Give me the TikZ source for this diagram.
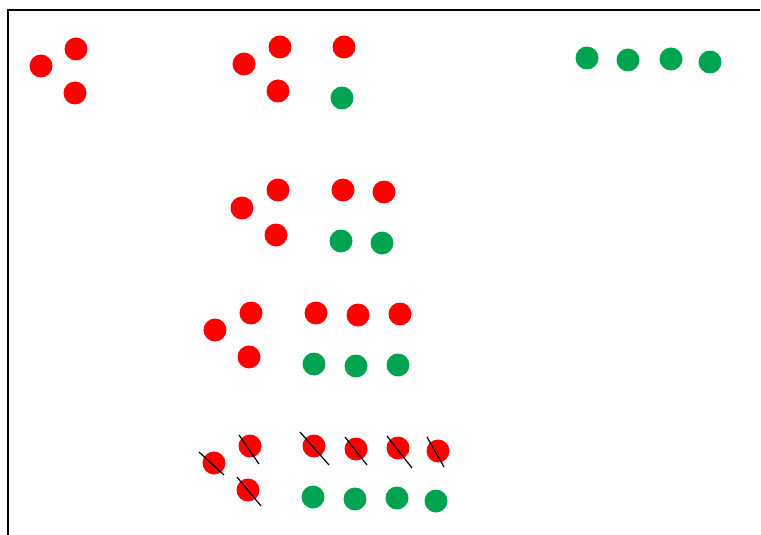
\documentclass[tikz,border=0pt]{standalone}
\usetikzlibrary{calc}
\definecolor{dotred}{RGB}{255,0,0}
\definecolor{dotgreen}{RGB}{0,164,80}
\tikzset{
  rdot/.style={circle,fill=dotred,draw=none,minimum size=23,inner sep=0pt},
  gdot/.style={circle,fill=dotgreen,draw=none,minimum size=23,inner sep=0pt},
  frameline/.style={line width=0.9,black},
  crossline/.style={line width=0.9,black}
}
\begin{document}
\begin{tikzpicture}[x=0.75pt,y=-0.75pt,minimum size=17.25pt]
\tikzset{rdot/.style={circle,fill=dotred,draw=none,minimum size=17.25pt,inner sep=0pt},
gdot/.style={circle,fill=dotgreen,draw=none,minimum size=17.25pt,inner sep=0pt}}
\useasboundingbox (0,0) rectangle (761,535);
\coordinate (fl) at (8,535);
\coordinate (ftl) at (8,10);
\coordinate (ftr) at (760,10);
\draw[frameline] (fl) -- (ftl) -- (ftr);
% group 1
\node[rdot] (a1) at (41,66) {};
\node[rdot] (a2) at (76,49) {};
\node[rdot] (a3) at (75,93) {};
% group 2
\node[rdot] (b1) at (244,64) {};
\node[rdot] (b2) at (280,47) {};
\node[rdot] (b3) at (278,91) {};
\node[rdot] (b4) at (344,47) {};
\node[gdot] (b5) at (342,98) {};
% top right greens
\node[gdot] (g1) at (587,58) {};
\node[gdot] (g2) at (628,60) {};
\node[gdot] (g3) at (671,59) {};
\node[gdot] (g4) at (710,62) {};
% row 3
\node[rdot] (c1) at (242,208) {};
\node[rdot] (c2) at (278,190) {};
\node[rdot] (c3) at (276,235) {};
\node[rdot] (c4) at (343,190) {};
\node[rdot] (c5) at (384,192) {};
\node[gdot] (c6) at (341,241) {};
\node[gdot] (c7) at (382,243) {};
% row 4
\node[rdot] (d1) at (215,330) {};
\node[rdot] (d2) at (251,313) {};
\node[rdot] (d3) at (249,357) {};
\node[rdot] (d4) at (316,313) {};
\node[rdot] (d5) at (358,315) {};
\node[rdot] (d6) at (400,314) {};
\node[gdot] (d7) at (314,364) {};
\node[gdot] (d8) at (356,366) {};
\node[gdot] (d9) at (398,365) {};
% row 5
\node[rdot] (e1) at (214,463) {};
\node[rdot] (e2) at (250,446) {};
\node[rdot] (e3) at (248,490) {};
\node[rdot] (e4) at (314,446) {};
\node[rdot] (e5) at (356,449) {};
\node[rdot] (e6) at (398,448) {};
\node[rdot] (e7) at (438,451) {};
\node[gdot] (e8) at (313,497) {};
\node[gdot] (e9) at (355,499) {};
\node[gdot] (e10) at (397,498) {};
\node[gdot] (e11) at (436,501) {};
% strike lines
\draw[crossline] ($(e1)+(-15,-11)$) -- ($(e1)+(10,12)$);
\draw[crossline] ($(e2)+(-11,-11)$) -- ($(e2)+(9,18)$);
\draw[crossline] ($(e3)+(-11,-13)$) -- ($(e3)+(13,16)$);
\draw[crossline] ($(e4)+(-14,-14)$) -- ($(e4)+(15,19)$);
\draw[crossline] ($(e5)+(-11,-12)$) -- ($(e5)+(11,16)$);
\draw[crossline] ($(e6)+(-11,-12)$) -- ($(e6)+(14,20)$);
\draw[crossline] ($(e7)+(-11,-14)$) -- ($(e7)+(6,16)$);
\end{tikzpicture}
\end{document}
